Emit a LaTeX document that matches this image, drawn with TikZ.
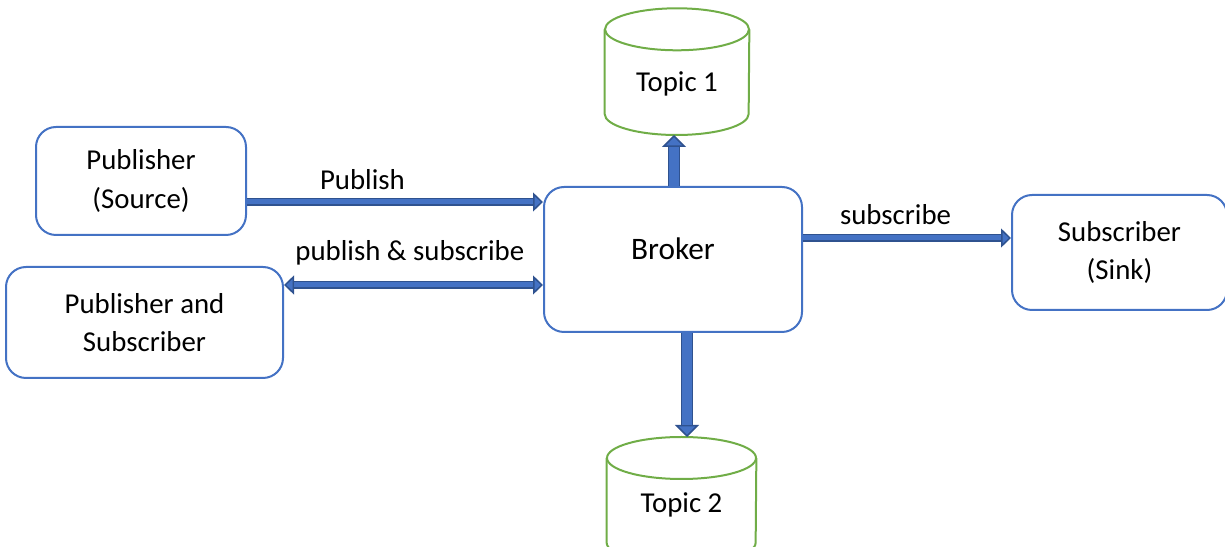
\documentclass[tikz,border=0pt]{standalone}
\usepackage{fontspec}
\setmainfont{Carlito}
\usetikzlibrary{positioning}
\usetikzlibrary{arrows.meta}
\usetikzlibrary{calc}

\definecolor{boxblue}{HTML}{4472C4}
\definecolor{arrowedge}{HTML}{2F528F}
\definecolor{topicgreen}{HTML}{70AD47}

\tikzset{
  flowtip/.tip={Triangle[length=0.2cm,width=0.38cm,line width=0.03cm,fill=boxblue]},
  bigtip/.tip={Triangle[length=0.24cm,width=0.48cm,line width=0.03cm,fill=boxblue]}
}

\begin{document}
\begin{tikzpicture}[font=\fontsize{16.4}{22}\selectfont,
    box node/.style={rectangle,rounded corners=0.4cm,draw=boxblue,line width=0.04cm,align=center},
    topic node/.style={rectangle,minimum height=2.52cm,text height=0.8cm,text depth=0pt},
    topic line/.style={draw=topicgreen,line width=0.04cm},
    label node/.style={anchor=base,inner sep=0pt},
    flow/.style={draw=arrowedge,line width=0.16cm,-flowtip,
      postaction={draw=boxblue,line width=0.1cm,-,shorten >=0.2cm}},
    flow both/.style={draw=arrowedge,line width=0.16cm,flowtip-flowtip,
      postaction={draw=boxblue,line width=0.1cm,-,shorten >=0.2cm,shorten <=0.2cm}},
    big flow/.style={draw=arrowedge,line width=0.25cm,-bigtip,
      postaction={draw=boxblue,line width=0.19cm,-,shorten >=0.24cm}}]
  \useasboundingbox (0,0) rectangle (24.5,10.94);

  \node[box node,minimum width=5.16cm,minimum height=2.9cm,text height=0.4cm,text depth=0.4cm,
        font=\fontsize{17.8}{22}\selectfont] (broker) at (13.46,5.75) {Broker};
  \node[box node,minimum width=4.2cm,minimum height=2.16cm] (src)
        [left=5.92cm of broker,yshift=1.57cm] {Publisher\\(Source)};
  \node[box node,minimum width=5.54cm,minimum height=2.22cm] (pubsub)
        [left=5.18cm of broker,yshift=-1.26cm] {Publisher and\\Subscriber};
  \node[box node,minimum width=4.3cm,minimum height=2.3cm] (sink)
        [right=4.16cm of broker,yshift=0.14cm] {Subscriber\\(Sink)};
  \node[topic node,minimum width=2.88cm] (t1) [above=1.02cm of broker,xshift=0.08cm] {Topic 1};
  \node[topic node,minimum width=2.98cm,text height=0.48cm] (t2)
        [below=2.08cm of broker,xshift=0.17cm] {Topic 2};

  % cylinders round the topic nodes
  \foreach \t/\r in {t1/1.44,t2/1.49} {
    \draw[topic line] ([yshift=-0.42cm]\t.north) ellipse [x radius=\r cm,y radius=0.42cm];
    \draw[topic line] ([yshift=-0.42cm]\t.north west) -- ([yshift=0.42cm]\t.south west)
      arc [start angle=180,end angle=360,x radius=\r cm,y radius=0.42cm]
      -- ([yshift=-0.42cm]\t.north east);
  }

  \draw[flow] ([yshift=-0.42cm]src.east) -- ([yshift=-0.42cm]src.east -| broker.west)
    node[label node,pos=0.39,yshift=0.24cm] {Publish};
  \draw[flow both] ([yshift=0.75cm]pubsub.east) -- ([yshift=0.75cm]pubsub.east -| broker.west)
    node[label node,pos=0.486,yshift=0.48cm] {publish \& subscribe};
  \draw[flow] ([yshift=0.43cm]broker.east) -- ([yshift=0.43cm]broker.east -| sink.west)
    node[label node,pos=0.445,yshift=0.26cm] {subscribe};
  \draw[big flow] ([xshift=0.02cm]broker.north) -- ([xshift=0.02cm]broker.north |- t1.south);
  \draw[big flow] ([xshift=0.28cm]broker.south) -- ([xshift=0.28cm]broker.south |- t2.north);
\end{tikzpicture}
\end{document}
